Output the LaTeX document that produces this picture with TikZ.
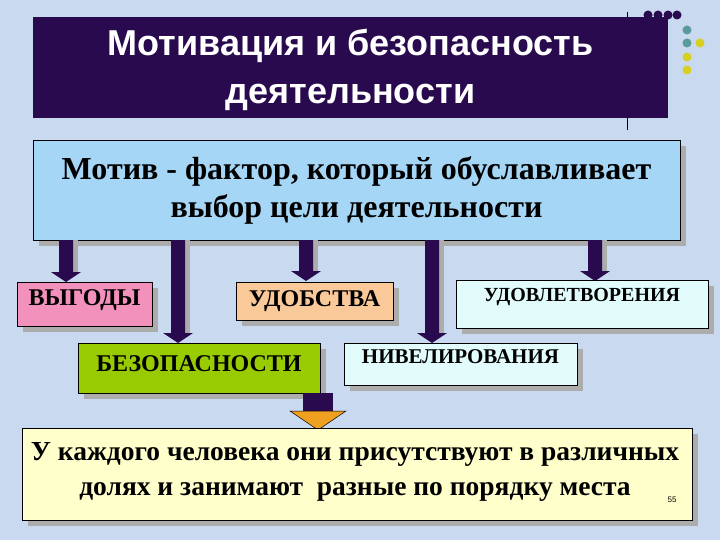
\documentclass[tikz,border=0pt]{standalone}
\usepackage{fontspec}
\setmainfont{Liberation Serif}
\newfontfamily\sansf{Liberation Sans}
\definecolor{bg}{HTML}{C9D9EF}
\definecolor{dpur}{HTML}{2A0A4E}
\definecolor{lblue}{HTML}{A6D6F6}
\definecolor{pinkc}{HTML}{F291BC}
\definecolor{peach}{HTML}{F9C99A}
\definecolor{lcyan}{HTML}{E2FCFC}
\definecolor{greenc}{HTML}{99CC00}
\definecolor{lyel}{HTML}{FFFFCC}
\definecolor{tealc}{HTML}{5A9A9A}
\definecolor{yelc}{HTML}{D8D020}
\definecolor{orng}{HTML}{F0A020}
\begin{document}
\begin{tikzpicture}[x=1pt,y=-1pt,
  box/.style={draw=black,line width=0.8pt},
  shad/.style={fill=gray!65},
  arr/.style={fill=dpur},
  lbl/.style={font=\bfseries,align=center,inner sep=0pt}]
\fill[bg] (0,0) rectangle (720,540);
\useasboundingbox (0,0) rectangle (720,540);
% title
\draw[black,line width=0.6pt] (627,12) -- (627,130);
\foreach \x in {648,658,668,677} \fill[dpur] (\x,15) circle (4.5);
\fill[tealc] (687,30) circle (4.5); \fill[tealc] (687,43) circle (4.5);
\fill[yelc] (700,43) circle (4.5); \fill[yelc] (687,57) circle (4.5); \fill[yelc] (687,70) circle (4.5);
\node[fill=dpur,minimum width=635pt,minimum height=101pt,inner sep=0pt] (title) at (350.5,67.5) {};
\node[text=white,font=\sansf\bfseries\fontsize{36}{48}\selectfont,align=center] (tt) at (350.5,70) {Мотивация и безопасность\\деятельности};
% main box
\fill[shad] (39,146) rectangle (686,246);
\node[box,fill=lblue,minimum width=647pt,minimum height=100pt,inner sep=0pt] (main) at (356.5,190) {};
\node[lbl,font=\bfseries\fontsize{32}{38}\selectfont] at (main) {Мотив - фактор, который обуславливает\\выбор цели деятельности};
% arrows
\foreach \x/\y in {66/282,306/281,595/281,178/343,432/343}{
  \fill[gray!65] (\x-3,240) rectangle (\x+12,\y-8);
  \fill[arr] (\x-7,240) rectangle (\x+7,\y-10) -- (\x+15,\y-10) -- (\x,\y) -- (\x-15,\y-10) -- (\x-7,\y-10);
}
% small boxes
\foreach \a/\b/\c/\d in {17/282/152/326,236/282/393/320,456/280/708/328,78/343/320/393,344/343/577/385}
  \fill[shad] (\a+6,\b+6) rectangle (\c+6,\d+6);
\node[box,fill=pinkc,minimum width=135pt,minimum height=44pt,inner sep=0pt] (b1) at (84.5,304) {};
\node[lbl,font=\bfseries\fontsize{24}{28}\selectfont] at (84.5,300) {ВЫГОДЫ};
\node[box,fill=peach,minimum width=157pt,minimum height=38pt,inner sep=0pt] (b2) at (314.5,301) {};
\node[lbl,font=\bfseries\fontsize{24}{28}\selectfont] at (314.5,301) {УДОБСТВА};
\node[box,fill=lcyan,minimum width=252pt,minimum height=48pt,inner sep=0pt] (b3) at (582,304) {};
\node[lbl,font=\bfseries\fontsize{20}{24}\selectfont] at (582,297) {УДОВЛЕТВОРЕНИЯ};
\node[box,fill=greenc,minimum width=242pt,minimum height=50pt,inner sep=0pt] (b4) at (199,368) {};
\node[lbl,font=\bfseries\fontsize{24}{28}\selectfont] at (199,364) {БЕЗОПАСНОСТИ};
\node[box,fill=lcyan,minimum width=233pt,minimum height=42pt,inner sep=0pt] (b5) at (460.5,364) {};
\node[lbl,font=\bfseries\fontsize{21}{24}\selectfont] at (460.5,357) {НИВЕЛИРОВАНИЯ};
% down arrow
\fill[dpur] (303,393) rectangle (333,411);
\fill[orng,draw=black,line width=0.5pt] (290,411) -- (346,411) -- (318,430) -- cycle;
% bottom
\fill[shad] (28,434) rectangle (698,526);
\node[box,fill=lyel,minimum width=670pt,minimum height=92pt,inner sep=0pt] (bot) at (357,474) {};
\node[lbl,font=\bfseries\fontsize{27.5}{35}\selectfont] at (355,472) {У каждого человека они присутствуют в различных\\долях и занимают\ \ разные по порядку места};
\node[font=\sansf\fontsize{8}{9}\selectfont] at (672,500) {55};
\end{tikzpicture}
\end{document}
